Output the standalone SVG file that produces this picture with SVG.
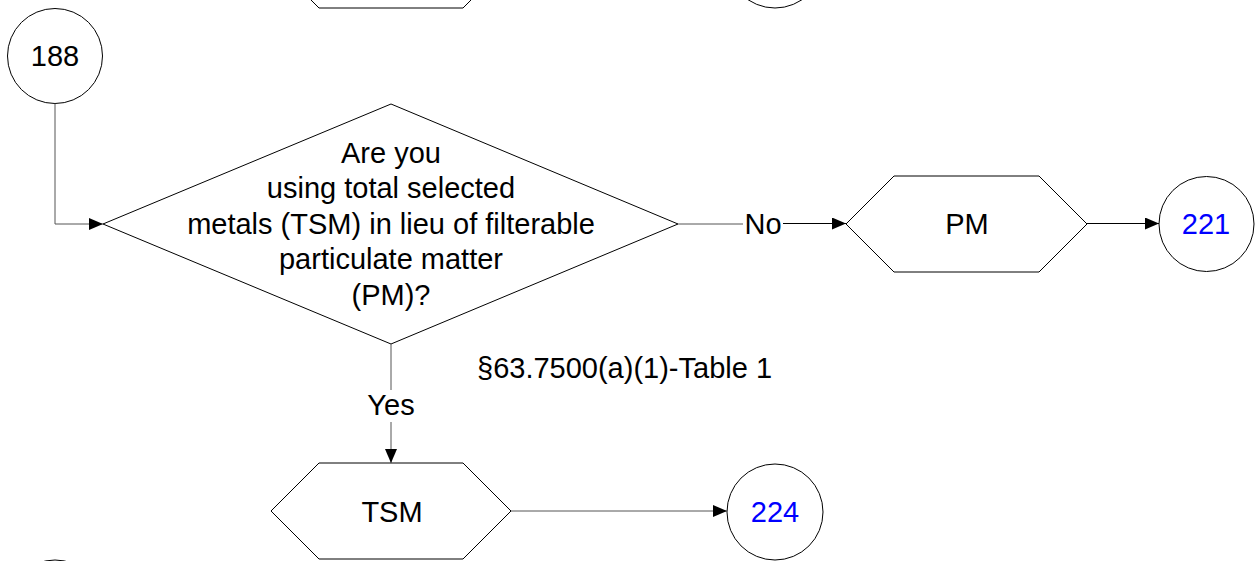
<svg xmlns="http://www.w3.org/2000/svg" width="1255" height="561" viewBox="0 0 1255 561">
<style>
.s{fill:#fff;stroke:#000;stroke-width:1}
.t{font-family:"Liberation Sans",Arial,sans-serif;font-size:29px;fill:#000;text-anchor:middle}
.b{fill:#0000ff}
.c{fill:none;stroke:#000;stroke-width:1}
.g{stroke:#555}
</style>
<defs>
<marker id="ah" viewBox="0 0 14 12" refX="14" refY="6" markerWidth="14" markerHeight="12" markerUnits="userSpaceOnUse" orient="auto">
<path d="M0,0 L14,6 L0,12 Z" fill="#000"/>
</marker>
</defs>
<g id="top-hex"><polygon class="s" points="271,-40 319,-88 463,-88 511,-40 463,8 319,8"/></g>
<g id="top-circle"><circle class="s" cx="775" cy="-40" r="48"/></g>
<g id="bottom-circle"><circle class="s" cx="55" cy="608" r="48"/></g>
<g id="n188"><circle class="s" cx="55" cy="56" r="47.5"/><text class="t" x="55" y="66">188</text></g>
<g id="decision"><polygon class="s" points="103,224 391,104 678,224 391,344"/>
<text class="t" x="391" y="163">Are you</text>
<text class="t" x="391" y="198">using total selected</text>
<text class="t" x="391" y="234">metals (TSM) in lieu of filterable</text>
<text class="t" x="391" y="269">particulate matter</text>
<text class="t" x="391" y="305">(PM)?</text>
</g>
<g id="pm"><polygon class="s" points="846,224 894,176 1039,176 1087,224 1039,272 894,272"/><text class="t" x="967" y="234">PM</text></g>
<g id="n221"><circle class="s" cx="1206.5" cy="224" r="47.5"/><text class="t b" x="1206" y="234">221</text></g>
<g id="tsm"><polygon class="s" points="271,511 319,463 463,463 511,511 463,559 319,559"/><text class="t" x="392" y="522">TSM</text></g>
<g id="n224"><circle class="s" cx="775" cy="512" r="48"/><text class="t b" x="775" y="522">224</text></g>
<g id="connectors">
<path class="c g" d="M55,103.5 V224 H103" marker-end="url(#ah)"/>
<path class="c g" d="M678,224 H743"/>
<path class="c" d="M783,223.5 H846" marker-end="url(#ah)"/>
<text class="t" x="763" y="234">No</text>
<path class="c" d="M1087,223.5 H1159" marker-end="url(#ah)"/>
<path class="c g" d="M391,344 V390"/>
<path class="c g" d="M391,422 V463" marker-end="url(#ah)"/>
<text class="t" x="391" y="415">Yes</text>
<path class="c g" d="M511,511 H727" marker-end="url(#ah)"/>
<text class="t" x="477" y="378" style="text-anchor:start">§63.7500(a)(1)-Table 1</text>
</g>
</svg>
